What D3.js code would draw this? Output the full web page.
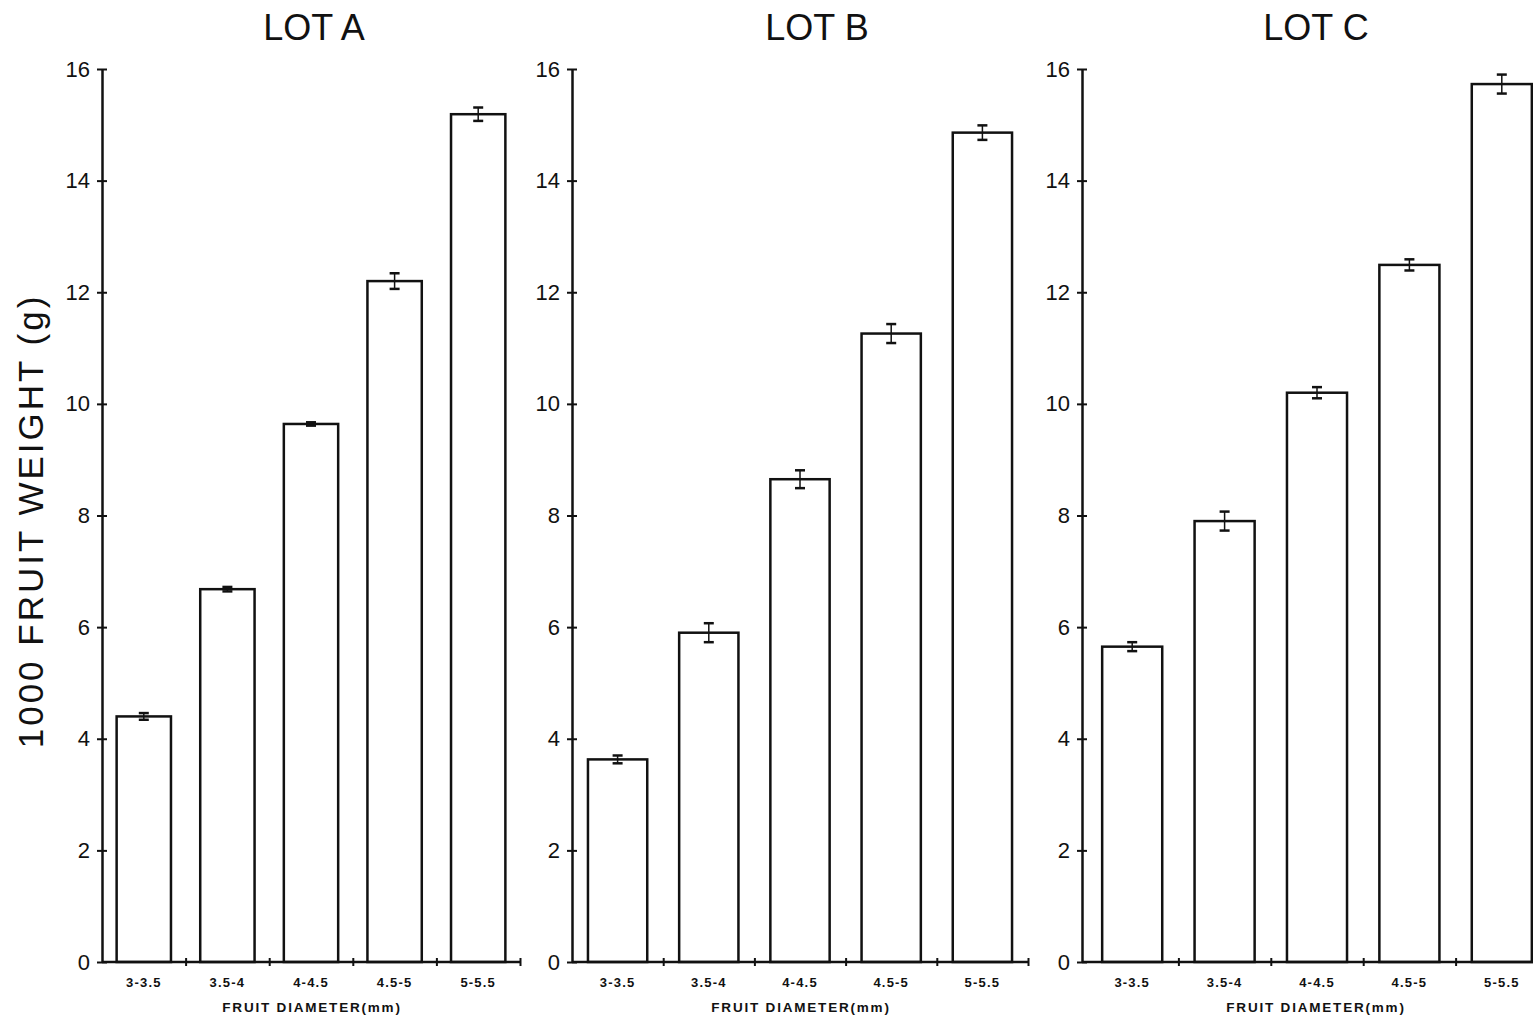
<!DOCTYPE html>
<html>
<head>
<meta charset="utf-8">
<script src="https://cdn.jsdelivr.net/npm/d3@7"></script>
<style>
  html, body { margin: 0; padding: 0; background: #fff; }
  svg { display: block; }
  text { font-family: "Liberation Sans", Arial, Helvetica, sans-serif; fill: #111; }
</style>
</head>
<body>
<script>
// Fruit diameter classes shared by all three lots
const diameters = ["3-3.5", "3.5-4", "4-4.5", "4.5-5", "5-5.5"];
const lots = ["LOT A", "LOT B", "LOT C"];

// Mean 1000-fruit weight (g) per diameter class
const weightA = [4.40, 6.68, 9.64, 12.20, 15.19];
const weightB = [3.63, 5.90, 8.65, 11.26, 14.86];
const weightC = [5.65, 7.90, 10.20, 12.49, 15.73];

// Standard errors (g)
const errA = [0.06, 0.04, 0.03, 0.14, 0.12];
const errB = [0.07, 0.17, 0.16, 0.17, 0.13];
const errC = [0.08, 0.17, 0.10, 0.10, 0.17];

const yTicks = [0, 2, 4, 6, 8, 10, 12, 14, 16];
const xTitle = "FRUIT DIAMETER(mm)";
const yTitle = "1000 FRUIT WEIGHT (g)";

const weights = [weightA, weightB, weightC];
const errors = [errA, errB, errC];

// Panel placement: y-axis position, band range and title centre
const panels = [
  { axisX: 102, x0: 102, x1: 520, titleX: 314 },
  { axisX: 572, x0: 572, x1: 1028, titleX: 817 },
  { axisX: 1082, x0: 1086, x1: 1548, titleX: 1316 }
];

const W = 1533, H = 1020;
const yTop = 69, yBottom = 962;
const ink = "#111";
const lw = 2.5;

const svg = d3.select("body").append("svg")
  .attr("width", W).attr("height", H);

// Shared y-axis title
svg.append("text")
  .attr("transform", `translate(43, 521) rotate(-90)`)
  .attr("text-anchor", "middle")
  .style("font-size", "35px")
  .style("letter-spacing", "3px")
  .text(yTitle);

const y = d3.scaleLinear().domain([0, 16]).range([yBottom, yTop]);

panels.forEach((p, i) => {
  const g = svg.append("g");
  const vals = weights[i];
  const errs = errors[i];
  const rows = diameters.map((d, k) => ({ d, v: vals[k], e: errs[k] }));

  const x = d3.scaleBand().domain(diameters)
    .range([p.x0, p.x1])
    .paddingInner(0.35)
    .paddingOuter(0.175);

  // Title
  g.append("text")
    .attr("x", p.titleX).attr("y", 40)
    .attr("text-anchor", "middle")
    .style("font-size", "36px")
    .text(lots[i]);

  // Bars
  g.selectAll("rect.bar").data(rows).join("rect")
    .attr("class", "bar")
    .attr("x", r => x(r.d))
    .attr("width", x.bandwidth())
    .attr("y", r => y(r.v))
    .attr("height", r => y(0) - y(r.v))
    .attr("fill", "#fff")
    .attr("stroke", ink)
    .attr("stroke-width", lw);

  // Error bars
  const eb = g.selectAll("g.err").data(rows).join("g")
    .attr("class", "err")
    .attr("transform", r => `translate(${x(r.d) + x.bandwidth() / 2},0)`);
  eb.append("line")
    .attr("x1", 0).attr("x2", 0)
    .attr("y1", r => y(r.v + r.e)).attr("y2", r => y(r.v - r.e))
    .attr("stroke", ink).attr("stroke-width", 1.5);
  eb.append("line")
    .attr("x1", -5).attr("x2", 5)
    .attr("y1", r => y(r.v + r.e)).attr("y2", r => y(r.v + r.e))
    .attr("stroke", ink).attr("stroke-width", 2.5);
  eb.append("line")
    .attr("x1", -5).attr("x2", 5)
    .attr("y1", r => y(r.v - r.e)).attr("y2", r => y(r.v - r.e))
    .attr("stroke", ink).attr("stroke-width", 2.5);

  // Y axis with ticks crossing the line
  const ya = g.append("g")
    .attr("transform", `translate(${p.axisX},0)`)
    .call(d3.axisLeft(y).tickValues(yTicks).tickSizeInner(5).tickSizeOuter(0).tickPadding(7).tickFormat(d3.format("d")));
  ya.select(".domain").attr("stroke", ink).attr("stroke-width", lw);
  ya.selectAll(".tick line").attr("x1", 5).attr("stroke", ink).attr("stroke-width", 2);
  ya.selectAll(".tick text")
    .style("font-size", "22px")
    .style("font-family", "'Liberation Sans', Arial, sans-serif")
    .attr("fill", ink);

  // X baseline from the y axis to the panel's end
  g.append("line")
    .attr("x1", p.axisX).attr("x2", p.x1)
    .attr("y1", yBottom).attr("y2", yBottom)
    .attr("stroke", ink).attr("stroke-width", lw);

  // Class boundary ticks
  const bounds = d3.scaleLinear().domain([0, diameters.length]).range([p.x0, p.x1]);
  const bt = g.append("g")
    .attr("transform", `translate(0,${yBottom})`)
    .call(d3.axisBottom(bounds).tickValues(d3.range(1, diameters.length + 1)).tickSize(4).tickFormat(""));
  bt.select(".domain").remove();
  bt.selectAll(".tick line").attr("y1", -4).attr("stroke", ink).attr("stroke-width", 2);

  // Category labels
  const xa = g.append("g")
    .attr("transform", `translate(0,${yBottom})`)
    .call(d3.axisBottom(x).tickSize(0).tickPadding(16));
  xa.select(".domain").remove();
  xa.selectAll(".tick text")
    .style("font-size", "13px")
    .style("font-weight", "bold")
    .style("letter-spacing", "1.2px")
    .style("font-family", "'Liberation Sans', Arial, sans-serif")
    .attr("fill", ink);

  // X-axis title
  g.append("text")
    .attr("x", (p.axisX + p.x1) / 2 + 1)
    .attr("y", 1012)
    .attr("text-anchor", "middle")
    .style("font-size", "13.5px")
    .style("font-weight", "bold")
    .style("letter-spacing", "1.8px")
    .text(xTitle);
});
</script>
</body>
</html>
